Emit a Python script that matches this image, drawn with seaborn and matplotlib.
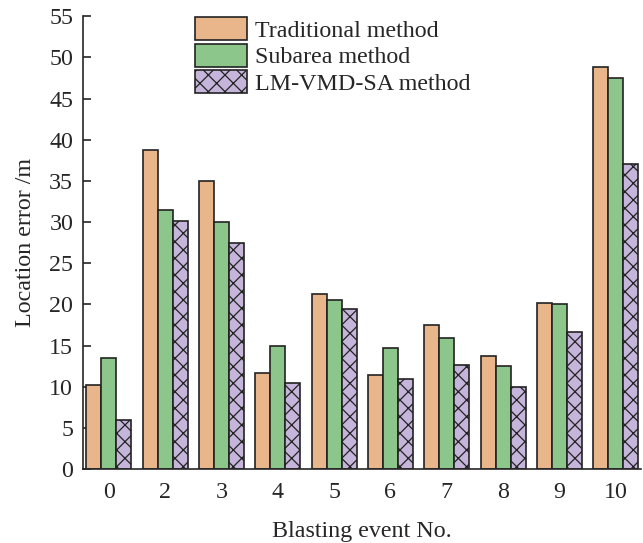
import matplotlib
matplotlib.use("Agg")
import matplotlib.pyplot as plt
import seaborn as sns
import pandas as pd

events = ["0", "2", "3", "4", "5", "6", "7", "8", "9", "10"]
traditional = [10.2, 38.8, 35.0, 11.7, 21.3, 11.4, 17.5, 13.7, 20.2, 48.8]
subarea = [13.5, 31.5, 30.0, 15.0, 20.5, 14.7, 15.9, 12.5, 20.0, 47.5]
lm_vmd_sa = [6.0, 30.1, 27.5, 10.5, 19.4, 11.0, 12.7, 10.0, 16.6, 37.0]
methods = ["Traditional method", "Subarea method", "LM-VMD-SA method"]
colors = ["#E9B58A", "#8DC68A", "#C5B5DA"]

df = pd.DataFrame({
    "event": events * 3,
    "error": traditional + subarea + lm_vmd_sa,
    "method": [m for m in methods for _ in events],
})

sns.set_style("ticks")
plt.rcParams["font.family"] = ["Liberation Serif", "DejaVu Serif"]
plt.rcParams["hatch.linewidth"] = 0.9

FS = 17.3

fig = plt.figure(figsize=(6.43, 5.43), dpi=100)
ax = fig.add_axes([0.129, 0.136, 0.868, 0.834])

sns.barplot(data=df, x="event", y="error", hue="method", order=events,
            hue_order=methods, palette=colors, width=0.8, saturation=1,
            edgecolor="#222222", linewidth=1.2, ax=ax)

hatches = ["", "", "xx"]
for cont, h in zip(ax.containers, hatches):
    for bar in cont:
        bar.set_hatch(h)

ax.set_ylim(0, 55)
ax.set_yticks(range(0, 56, 5))
ax.set_xlim(-0.46, 9.45)
ax.set_xlabel("Blasting event No.", fontsize=FS, labelpad=13.5)
ax.set_ylabel("Location error /m", fontsize=FS, labelpad=9.5)
ax.tick_params(axis="both", direction="in", labelsize=FS, width=1.2, length=6)
ax.tick_params(axis="y", pad=7)
ax.tick_params(axis="x", length=5.5, pad=9)
for s in ["top", "right"]:
    ax.spines[s].set_visible(False)
for s in ["left", "bottom"]:
    ax.spines[s].set_linewidth(1.2)

handles, labels = ax.get_legend_handles_labels()
for hnd, h in zip(handles, hatches):
    hnd.set_hatch(h)
ax.legend(handles, labels, loc="upper left", bbox_to_anchor=(0.2, 0.998),
          frameon=False, fontsize=FS, handlelength=2.17, handleheight=1.1,
          labelspacing=0.07, handletextpad=0.33, borderpad=0.0,
          borderaxespad=0.0)

fig.savefig("out.png", dpi=100)
